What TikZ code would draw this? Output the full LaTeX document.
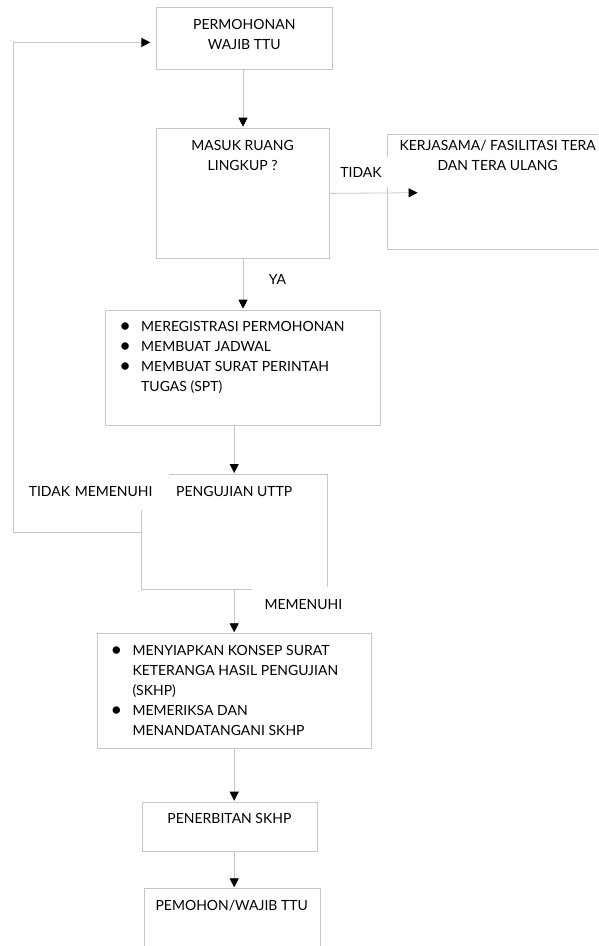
\documentclass[tikz,border=0pt]{standalone}
\usepackage{fontspec}
\setmainfont{Lato}
\usetikzlibrary{arrows.meta}
\newcommand{\butir}{\makebox[20pt][l]{\makebox[8pt][c]{\fontsize{20}{20}\selectfont\raisebox{-1.6pt}{\textbullet}}}}
\newcommand{\sambung}{\hspace*{20pt}}

\begin{document}
\begin{tikzpicture}[x=1pt, y=-1pt, font=\fontsize{14}{20}\selectfont,
		kotak/.style={draw=black!22, line width=0.8pt, inner sep=0pt, anchor=north west},
		teks/.style={inner sep=0pt, anchor=north, align=center},
		daftar/.style={inner sep=0pt, anchor=north west, align=left},
		ket/.style={fill=white, inner sep=0pt},
		panah/.style={draw=black!22, line width=0.8pt, -{Triangle[length=9pt, width=9pt, black]}, shorten >=1pt}]
		%%%%% START %%%%%
		
		\useasboundingbox (0,0) rectangle (598,946);
		\clip (0,0) rectangle (598,946);
		
		\node[kotak, minimum width=175.8pt, minimum height=62pt] (perm) at (156.4, 7.3) {};
		\node[teks] (permteks) at (244.3, 19) {PERMOHONAN\\WAJIB TTU};
		
		\node[kotak, minimum width=172.4pt, minimum height=130.6pt] (lingkup) at (156.4, 127.7) {};
		\node[teks] (lingkupteks) at (242.6, 139.7) {MASUK RUANG\\LINGKUP ?};
		
		\node[kotak, minimum width=250pt, minimum height=115.3pt] (kerja) at (387, 134) {};
		\node[teks] (kerjateks) at (497.7, 139.7) {KERJASAMA/ FASILITASI TERA\\DAN TERA ULANG};
		
		\node[kotak, minimum width=274.2pt, minimum height=115.3pt] (reg) at (105.3, 309.7) {};
		\node[daftar] (regteks) at (121, 321) {\butir MEREGISTRASI PERMOHONAN\\\butir MEMBUAT JADWAL\\\butir MEMBUAT SURAT PERINTAH\\\sambung TUGAS (SPT)};
		
		\node[kotak, minimum width=186.2pt, minimum height=115pt] (uttp) at (140.7, 474) {};
		\node[teks] (uttpteks) at (234.2, 486) {PENGUJIAN UTTP};
		
		\node[kotak, minimum width=274.5pt, minimum height=115pt] (konsep) at (96.5, 633.3) {};
		\node[daftar] (konsepteks) at (112.3, 645) {\butir MENYIAPKAN KONSEP SURAT\\\sambung KETERANGA HASIL PENGUJIAN\\\sambung (SKHP)\\\butir MEMERIKSA DAN\\\sambung MENANDATANGANI SKHP};
		
		\node[kotak, minimum width=175.8pt, minimum height=49.3pt] (terbit) at (141.5, 801.7) {};
		\node[teks] (terbitteks) at (229.4, 813.3) {PENERBITAN SKHP};
		
		\node[kotak, minimum width=175.4pt, minimum height=80pt] (pemohon) at (144.2, 888.3) {};
		\node[teks] (pemohonteks) at (231.7, 900) {PEMOHON/WAJIB TTU};
		
		\coordinate (tidakujung) at (417.6, 192.7);
		
		\draw[panah] (lingkup.north |- perm.south) -- (lingkup.north);
		\draw[panah, shorten >=0pt] (lingkup.east) -- (tidakujung);
		\draw[panah] (lingkup.south) -- (lingkup.south |- reg.north);
		\draw[panah] (uttp.north |- reg.south) -- (uttp.north);
		\draw[panah] (uttp.south) -- (uttp.south |- konsep.north);
		\draw[panah] (uttp.south |- konsep.south) -- (uttp.south |- terbit.north);
		\draw[panah] (uttp.south |- terbit.south) -- (uttp.south |- pemohon.north);
		\draw[panah, shorten >=6pt] (uttp.west) -- ++(-127.4, 0) |- ([yshift=-3.7pt]perm.west);
		
		\node[ket, minimum width=56pt, minimum height=30pt] (tidak) at (361, 172) {TIDAK};
		\node[ket] (ya) at (277.5, 279) {YA};
		\node[ket, anchor=north west, text width=134pt, inner xsep=6.6pt, minimum height=38pt, align=left] (tdkpenuh) at (22, 472) {TIDAK MEMENUHI};
		\node[ket, anchor=north west, text width=80pt, inner xsep=12.6pt, minimum height=35.2pt, align=left] (penuh) at (251.7, 586.7) {MEMENUHI};
		
		%%%%% END %%%%%
	\end{tikzpicture}
\end{document}
